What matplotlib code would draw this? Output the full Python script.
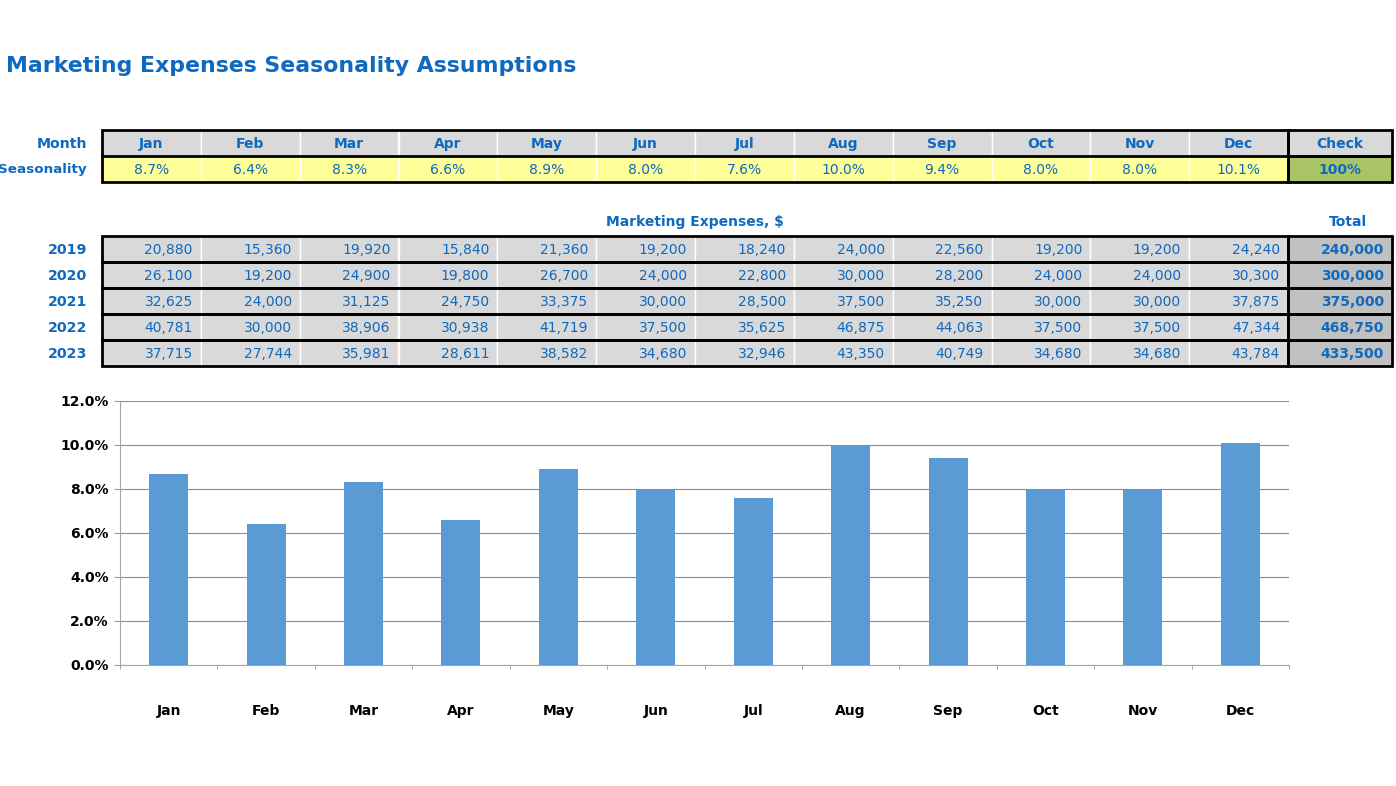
import matplotlib.pyplot as plt
from matplotlib.patches import Rectangle
from matplotlib.ticker import FuncFormatter

# Data
months = ['Jan', 'Feb', 'Mar', 'Apr', 'May', 'Jun', 'Jul', 'Aug', 'Sep', 'Oct', 'Nov', 'Dec']
seasonality = [8.7, 6.4, 8.3, 6.6, 8.9, 8.0, 7.6, 10.0, 9.4, 8.0, 8.0, 10.1]
years = ['2019', '2020', '2021', '2022', '2023']
exp_2019 = [20880, 15360, 19920, 15840, 21360, 19200, 18240, 24000, 22560, 19200, 19200, 24240]
exp_2020 = [26100, 19200, 24900, 19800, 26700, 24000, 22800, 30000, 28200, 24000, 24000, 30300]
exp_2021 = [32625, 24000, 31125, 24750, 33375, 30000, 28500, 37500, 35250, 30000, 30000, 37875]
exp_2022 = [40781, 30000, 38906, 30938, 41719, 37500, 35625, 46875, 44063, 37500, 37500, 47344]
exp_2023 = [37715, 27744, 35981, 28611, 38582, 34680, 32946, 43350, 40749, 34680, 34680, 43784]
totals = [240000, 300000, 375000, 468750, 433500]
expenses = [exp_2019, exp_2020, exp_2021, exp_2022, exp_2023]

BLUE = '#0f69be'
W, H = 1396, 786
fig = plt.figure(figsize=(W / 100, H / 100), dpi=100)

# overlay axes in pixel coordinates for the tables
tab = fig.add_axes([0, 0, 1, 1])
tab.set_xlim(0, W)
tab.set_ylim(H, 0)
tab.axis('off')

tab.text(6, 66, 'Marketing Expenses Seasonality Assumptions', color=BLUE,
         fontsize=15.8, fontweight='bold', va='center', ha='left')

x0, cw = 102, (1288 - 102) / 12
cx0, cxw = 1288, 104


def cell(x, y, w, h, fc, txt, bold=False, ha='center'):
    tab.add_patch(Rectangle((x, y), w, h, facecolor=fc, edgecolor='white', lw=1))
    if ha == 'center':
        tab.text(x + w / 2, y + h / 2 + 1, txt, ha='center', va='center', color=BLUE,
                 fontsize=10, fontweight='bold' if bold else 'normal')
    else:
        tab.text(x + w - 8, y + h / 2 + 1, txt, ha='right', va='center', color=BLUE,
                 fontsize=10, fontweight='bold' if bold else 'normal')


def box(x, y, w, h, lw=2):
    tab.add_patch(Rectangle((x, y), w, h, facecolor='none', edgecolor='black', lw=lw, zorder=5))


def row_label(y, txt, size=10.2):
    tab.text(87, y, txt, ha='right', va='center', color=BLUE, fontsize=size, fontweight='bold')


# seasonality table
r1, r2, rh = 130, 156, 26
row_label(r1 + rh / 2 + 1, 'Month')
row_label(r2 + rh / 2 + 1, 'Seasonality', size=9.7)
for i, m in enumerate(months):
    cell(x0 + i * cw, r1, cw, rh, '#d9d9d9', m, bold=True)
    cell(x0 + i * cw, r2, cw, rh, '#ffff99', f'{seasonality[i]:.1f}%')
cell(cx0, r1, cxw, rh, '#d9d9d9', 'Check', bold=True)
cell(cx0, r2, cxw, rh, '#a9c466', f'{round(sum(seasonality)):.0f}%', bold=True)
box(x0, r1, cx0 - x0, rh * 2)
tab.plot([x0, cx0], [r2, r2], color='black', lw=2, zorder=5)
box(cx0, r1, cxw, rh)
box(cx0, r2, cxw, rh)

# expenses table
tab.text(695, 222, 'Marketing Expenses, $', ha='center', va='center', color=BLUE, fontsize=10, fontweight='bold')
tab.text(cx0 + cxw / 2 + 8, 222, 'Total', ha='center', va='center', color=BLUE, fontsize=10, fontweight='bold')
ry0 = 236
for j, yr in enumerate(years):
    y = ry0 + j * rh
    row_label(y + rh / 2 + 1, yr)
    for i in range(12):
        cell(x0 + i * cw, y, cw, rh, '#d9d9d9', f'{expenses[j][i]:,}', ha='right')
    cell(cx0, y, cxw, rh, '#c0c0c0', f'{totals[j]:,}', bold=True, ha='right')
    box(x0, y, cx0 - x0, rh)
    box(cx0, y, cxw, rh)

# bar chart
ax = fig.add_axes([120 / W, (H - 665) / H, (1289 - 120) / W, (665 - 401) / H])
ax.bar(range(12), seasonality, width=0.4, color='#5b9bd5', zorder=3)
ax.set_xlim(-0.5, 11.5)
ax.set_ylim(0, 12)
ax.set_yticks([0, 2, 4, 6, 8, 10, 12])
ax.yaxis.set_major_formatter(FuncFormatter(lambda v, p: f'{v:.1f}%'))
ax.set_xticks(range(12))
ax.set_xticklabels(months)
ax.set_xticks([i + 0.5 for i in range(-1, 12)], minor=True)
ax.tick_params(axis='x', which='major', length=0, pad=28)
ax.tick_params(axis='x', which='minor', length=3, color='#999999')
ax.tick_params(axis='y', length=4, color='#999999', pad=4)
for lab in ax.get_xticklabels() + ax.get_yticklabels():
    lab.set_fontweight('bold')
    lab.set_fontsize(10)
ax.grid(axis='y', color='#8c8c8c', lw=0.8, zorder=0)
for s in ['top', 'right']:
    ax.spines[s].set_visible(False)
for s in ['left', 'bottom']:
    ax.spines[s].set_color('#a6a6a6')

fig.savefig('out.png', dpi=100)
